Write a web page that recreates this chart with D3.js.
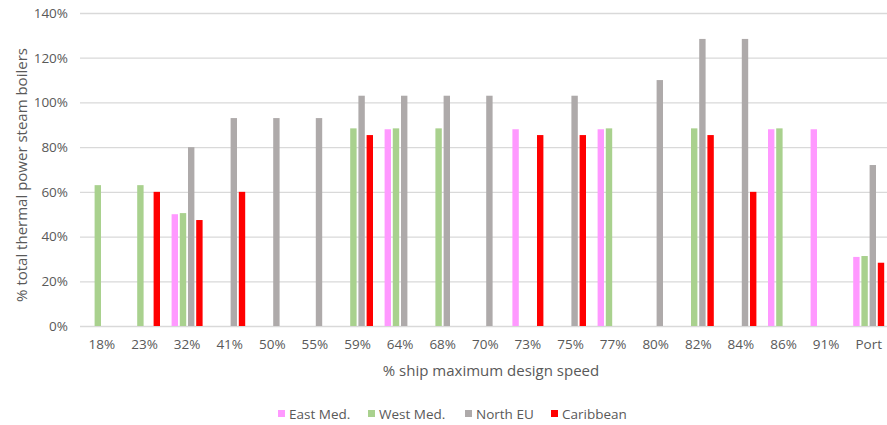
<!DOCTYPE html>
<html><head><meta charset="utf-8">
<script src="https://cdn.jsdelivr.net/npm/d3@7"></script>
<style>body{margin:0;background:#fff}svg{display:block}text{font-family:"Open Sans",sans-serif;fill:#595959}</style>
</head><body><svg id="c" width="887" height="425"></svg>
<script>
const categories = ["18%","23%","32%","41%","50%","55%","59%","64%","68%","70%","73%","75%","77%","80%","82%","84%","86%","91%","Port"];
const seriesNames = ["East Med.","West Med.","North EU","Caribbean"];
const seriesColors = ["#ff99ff","#a9d18e","#aeaaaa","#ff0000"];
const eastMed   = [0,0,50,0,0,0,0,88,0,0,88,0,88,0,0,0,88,88,30.9];
const westMed   = [63,63,50.5,0,0,0,88.4,88.4,88.4,0,0,0,88.4,0,88.4,0,88.4,0,31.3];
const northEU   = [0,0,80,93,93,93,103,103,103,103,0,103,0,110,128.4,128.4,0,0,72];
const caribbean = [0,60,47.4,60,0,0,85.4,0,0,0,85.4,85.4,0,0,85.4,60,0,0,28.3];
const yTicks = [0,20,40,60,80,100,120,140];
const series = [eastMed, westMed, northEU, caribbean];

const svg = d3.select("#c");
const x = d3.scaleBand().domain(categories).range([80.6, 890]).paddingInner(0).paddingOuter(0);
const y = d3.scaleLinear().domain([0,140]).range([326, 13]);
const sub = d3.scaleBand().domain(d3.range(4)).range([-15.5, 15.5]).paddingInner(0.22);

// gridlines
const yAxis = d3.axisLeft(y).tickValues(yTicks).tickFormat(d => d + "%").tickSize(-(887-80)).tickPadding(12);
const gy = svg.append("g").attr("transform","translate(80,0)").call(yAxis);
gy.select(".domain").remove();
gy.selectAll(".tick line").attr("stroke","#d9d9d9").attr("stroke-width",1.3);
gy.selectAll(".tick text").style("font-size","13.5px").attr("fill","#595959");

// bars
series.forEach((vals, si) => {
  svg.append("g").selectAll("rect").data(vals.map((v,i)=>({v, c: categories[i]})).filter(d => d.v > 0))
    .join("rect")
    .attr("x", d => x(d.c) + x.bandwidth()/2 + sub(si))
    .attr("width", sub.bandwidth())
    .attr("y", d => y(d.v))
    .attr("height", d => y(0) - y(d.v))
    .attr("fill", seriesColors[si]);
});

// x axis
const xAxis = d3.axisBottom(x).tickSize(0).tickPadding(13);
const gx = svg.append("g").attr("transform","translate(0,326)").call(xAxis);
gx.select(".domain").remove();
gx.selectAll(".tick text").style("font-size","13.5px").attr("fill","#595959");

// titles
svg.append("text").attr("x", 491).attr("y", 375.5).attr("text-anchor","middle").style("font-size","15px").text("% ship maximum design speed");
svg.append("text").attr("transform","translate(27,175) rotate(-90)").attr("text-anchor","middle").style("font-size","15px").text("% total thermal power steam boilers");

// legend
const legX = [278, 368, 465, 551];
const lg = svg.append("g");
seriesNames.forEach((n,i) => {
  lg.append("rect").attr("x", legX[i]).attr("y", 410).attr("width", 7).attr("height", 7).attr("fill", seriesColors[i]);
  lg.append("text").attr("x", legX[i] + 11).attr("y", 418.5).style("font-size","13.5px").text(n);
});
</script></body></html>
